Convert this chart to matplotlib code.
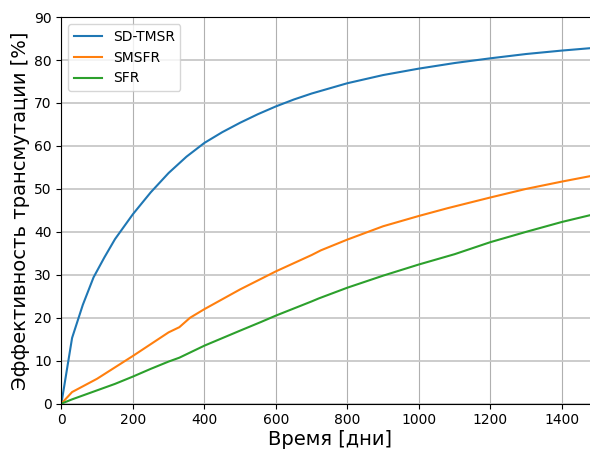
import matplotlib
matplotlib.use("Agg")
import matplotlib.pyplot as plt

# Time axis (days) and transmutation efficiency (%) for each reactor concept
t_sd_tmsr = [0, 30, 60, 90, 120, 150, 200, 250, 300, 350, 400, 450, 500, 550,
             600, 650, 700, 800, 900, 1000, 1100, 1200, 1300, 1400, 1500]
eff_sd_tmsr = [0, 15.3, 23.0, 29.4, 34.0, 38.3, 44.1, 49.2, 53.7, 57.5, 60.7,
               63.2, 65.4, 67.4, 69.2, 70.8, 72.2, 74.6, 76.5, 78.0, 79.3,
               80.4, 81.4, 82.2, 82.9]

t_smsfr = [0, 30, 100, 200, 300, 330, 360, 400, 500, 600, 700, 726, 800, 900,
           1000, 1080, 1200, 1300, 1400, 1500]
eff_smsfr = [0, 2.7, 5.8, 11.1, 16.6, 17.8, 20.0, 22.0, 26.6, 30.8, 34.6, 35.7,
             38.2, 41.3, 43.7, 45.5, 48.0, 50.0, 51.7, 53.3]

t_sfr = [0, 30, 90, 150, 200, 250, 300, 330, 400, 500, 558, 600, 700, 720, 800,
         900, 1000, 1100, 1200, 1300, 1400, 1500]
eff_sfr = [0, 1.0, 2.8, 4.6, 6.3, 8.1, 9.8, 10.7, 13.5, 17.0, 19.0, 20.5, 23.8,
           24.5, 27.0, 29.8, 32.4, 34.8, 37.6, 40.0, 42.3, 44.3]

fig = plt.figure(figsize=(5.9, 4.49), dpi=100)
ax = fig.add_axes([0.104, 0.101, 0.909, 0.861])

ax.plot(t_sd_tmsr, eff_sd_tmsr, color='#1f77b4', label='SD-TMSR')
ax.plot(t_smsfr, eff_smsfr, color='#ff7f0e', label='SMSFR')
ax.plot(t_sfr, eff_sfr, color='#2ca02c', label='SFR')

ax.set_xlim(0, 1500)
ax.set_ylim(0, 90)
ax.set_xticks([0, 200, 400, 600, 800, 1000, 1200, 1400])
ax.set_yticks(range(0, 91, 10))

ax.xaxis.grid(True, color='#b0b0b0', linewidth=0.8)
ax.yaxis.grid(True, color='#c8c8c8', linewidth=1.3)
ax.set_axisbelow(True)

ax.set_xlabel('Время [дни]', fontsize=14, labelpad=2)
ax.set_ylabel('Эффективность трансмутации [%]', fontsize=14, labelpad=3)
ax.legend(loc='upper left')

fig.savefig('out.png', dpi=100)
